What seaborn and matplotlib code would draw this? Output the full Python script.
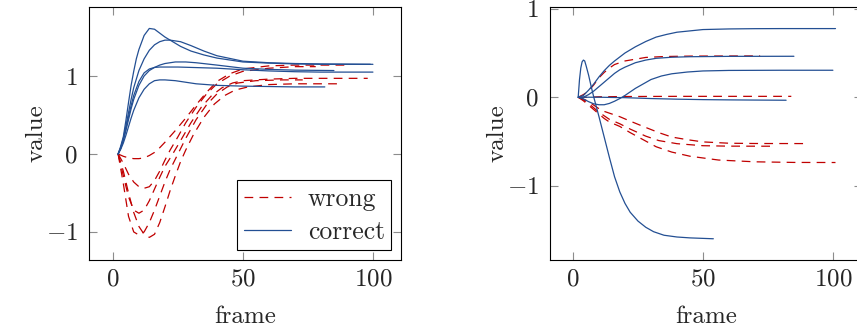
import numpy as np
import pandas as pd
import matplotlib
matplotlib.use('Agg')
import matplotlib.pyplot as plt
import seaborn as sns
from matplotlib.lines import Line2D

# left panel, "correct" runs
lc_a_x = [2, 3, 4, 5, 6, 7, 8, 9, 10, 12, 14, 16, 18, 20, 22, 26, 30, 35, 40, 50, 60, 70, 80, 100]
lc_a_y = [0, 0.1, 0.22, 0.43, 0.66, 0.88, 1.06, 1.22, 1.34, 1.52, 1.61, 1.6, 1.55, 1.5, 1.46, 1.38, 1.32, 1.27, 1.23, 1.18, 1.165, 1.155, 1.15, 1.15]
lc_b_x = [2, 3, 4, 5, 6, 7, 8, 10, 12, 14, 16, 18, 20, 22, 26, 30, 35, 40, 50, 60, 70, 80, 99]
lc_b_y = [0, 0.08, 0.2, 0.36, 0.53, 0.7, 0.85, 1.07, 1.22, 1.33, 1.4, 1.44, 1.46, 1.46, 1.44, 1.39, 1.32, 1.26, 1.19, 1.17, 1.16, 1.155, 1.15]
lc_c_x = [2, 3, 4, 5, 6, 7, 8, 10, 12, 14, 16, 18, 20, 24, 28, 32, 36, 40, 45, 50, 60, 70, 85]
lc_c_y = [0, 0.07, 0.17, 0.3, 0.44, 0.58, 0.7, 0.88, 1.0, 1.07, 1.11, 1.14, 1.16, 1.18, 1.18, 1.17, 1.155, 1.14, 1.12, 1.1, 1.085, 1.075, 1.07]
lc_d_x = [2, 3, 4, 5, 6, 7, 8, 10, 12, 14, 16, 18, 20, 25, 30, 40, 50, 60, 70, 80, 100]
lc_d_y = [0, 0.08, 0.19, 0.33, 0.48, 0.62, 0.75, 0.93, 1.04, 1.09, 1.11, 1.115, 1.115, 1.115, 1.11, 1.1, 1.08, 1.065, 1.055, 1.05, 1.05]
lc_e_x = [2, 3, 4, 5, 6, 7, 8, 10, 12, 14, 16, 18, 20, 24, 28, 32, 40, 50, 60, 70, 81.5]
lc_e_y = [0, 0.06, 0.14, 0.24, 0.35, 0.46, 0.56, 0.72, 0.83, 0.9, 0.94, 0.95, 0.95, 0.94, 0.92, 0.9, 0.88, 0.87, 0.865, 0.86, 0.86]

# left panel, "wrong" runs
lw_a_x = [2, 4, 6, 8, 10, 12, 14, 16, 18, 20, 24, 28, 32, 36, 40, 45, 50, 60, 70, 80, 90]
lw_a_y = [0, -0.03, -0.05, -0.06, -0.06, -0.05, -0.02, 0.02, 0.08, 0.15, 0.3, 0.46, 0.63, 0.79, 0.93, 1.03, 1.09, 1.13, 1.14, 1.14, 1.14]
lw_b_x = [2, 4, 6, 8, 10, 12, 14, 16, 18, 20, 22, 25, 28, 32, 36, 40, 45, 50, 60, 70, 78]
lw_b_y = [0, -0.12, -0.26, -0.36, -0.42, -0.44, -0.42, -0.34, -0.22, -0.08, 0.05, 0.22, 0.4, 0.6, 0.77, 0.9, 1.0, 1.06, 1.1, 1.12, 1.12]
lw_c_x = [2, 4, 6, 8, 10, 12, 14, 16, 18, 20, 23, 26, 30, 34, 38, 42, 46, 50, 60, 70, 80, 98]
lw_c_y = [0, -0.28, -0.55, -0.72, -0.76, -0.72, -0.6, -0.45, -0.3, -0.16, 0.0, 0.17, 0.4, 0.6, 0.75, 0.85, 0.91, 0.94, 0.96, 0.97, 0.97, 0.97]
lw_d_x = [2, 4, 6, 8, 10, 12, 14, 16, 18, 20, 22, 25, 28, 32, 36, 40, 44, 48, 55, 65, 73]
lw_d_y = [0, -0.38, -0.8, -1.0, -1.04, -1.0, -0.88, -0.72, -0.54, -0.36, -0.2, 0.0, 0.2, 0.44, 0.63, 0.77, 0.86, 0.91, 0.94, 0.95, 0.95]
lw_e_x = [2, 4, 6, 8, 10, 12, 14, 16, 18, 20, 22, 24, 26, 28, 31, 35, 39, 43, 47, 52, 60, 70, 87]
lw_e_y = [0, -0.22, -0.5, -0.75, -0.93, -1.03, -1.07, -1.03, -0.88, -0.68, -0.47, -0.28, -0.1, 0.05, 0.25, 0.47, 0.64, 0.75, 0.82, 0.86, 0.89, 0.9, 0.9]

# right panel, "correct" runs
rc_a_x = [2, 4, 6, 8, 10, 12, 14, 16, 18, 20, 24, 28, 32, 36, 40, 45, 50, 60, 70, 80, 101]
rc_a_y = [0, 0.02, 0.08, 0.15, 0.23, 0.3, 0.36, 0.41, 0.455, 0.5, 0.57, 0.63, 0.68, 0.71, 0.735, 0.75, 0.765, 0.772, 0.775, 0.776, 0.776]
rc_b_x = [2, 4, 6, 8, 10, 12, 14, 16, 18, 20, 24, 28, 32, 38, 45, 60, 85]
rc_b_y = [0, 0.0, 0.03, 0.07, 0.12, 0.17, 0.22, 0.27, 0.31, 0.34, 0.39, 0.42, 0.44, 0.452, 0.458, 0.462, 0.463]
rc_c_x = [2, 4, 6, 8, 10, 12, 14, 16, 18, 20, 22, 24, 27, 30, 34, 38, 44, 50, 60, 80, 100]
rc_c_y = [0, -0.02, -0.05, -0.075, -0.085, -0.085, -0.07, -0.045, -0.015, 0.02, 0.06, 0.1, 0.15, 0.2, 0.24, 0.265, 0.285, 0.297, 0.303, 0.305, 0.305]
rc_d_x = [2, 10, 20, 30, 40, 50, 60, 70, 82]
rc_d_y = [0, 0.0, -0.005, -0.015, -0.022, -0.027, -0.03, -0.032, -0.034]
rc_e_x = [2, 2.5, 3, 3.5, 4, 4.5, 5, 6, 7, 8, 10, 12, 14, 16, 18, 20, 22, 25, 28, 31, 35, 40, 45, 54]
rc_e_y = [0, 0.2, 0.33, 0.4, 0.42, 0.41, 0.36, 0.25, 0.12, 0.0, -0.22, -0.45, -0.68, -0.9, -1.07, -1.2, -1.3, -1.4, -1.47, -1.52, -1.56, -1.58, -1.59, -1.6]

# right panel, "wrong" runs
rw_a_x = [2, 4, 6, 8, 10, 12, 14, 16, 18, 20, 24, 28, 35, 45, 72]
rw_a_y = [0, 0.03, 0.07, 0.14, 0.22, 0.28, 0.33, 0.37, 0.39, 0.41, 0.43, 0.45, 0.46, 0.465, 0.467]
rw_b_x = [2, 6, 10, 20, 40, 84]
rw_b_y = [0, 0.0, 0.005, 0.008, 0.01, 0.01]
rw_c_x = [2, 4, 6, 8, 10, 12, 14, 18, 22, 27, 33, 38, 44, 50, 60, 70, 90]
rw_c_y = [0, -0.02, -0.05, -0.09, -0.13, -0.16, -0.18, -0.22, -0.27, -0.33, -0.4, -0.45, -0.48, -0.505, -0.52, -0.523, -0.524]
rw_d_x = [2, 4, 6, 8, 10, 12, 14, 18, 22, 28, 33, 40, 50, 60, 78]
rw_d_y = [0, -0.03, -0.07, -0.12, -0.17, -0.21, -0.25, -0.3, -0.36, -0.44, -0.49, -0.525, -0.548, -0.553, -0.554]
rw_e_x = [2, 4, 6, 8, 10, 12, 14, 18, 22, 27, 32, 38, 45, 56, 70, 85, 101]
rw_e_y = [0, -0.04, -0.09, -0.14, -0.19, -0.24, -0.28, -0.33, -0.4, -0.48, -0.56, -0.62, -0.667, -0.71, -0.73, -0.737, -0.738]

left_wrong = [(lw_a_x, lw_a_y), (lw_b_x, lw_b_y), (lw_c_x, lw_c_y), (lw_d_x, lw_d_y), (lw_e_x, lw_e_y)]
left_correct = [(lc_a_x, lc_a_y), (lc_b_x, lc_b_y), (lc_c_x, lc_c_y), (lc_d_x, lc_d_y), (lc_e_x, lc_e_y)]
right_wrong = [(rw_a_x, rw_a_y), (rw_b_x, rw_b_y), (rw_c_x, rw_c_y), (rw_d_x, rw_d_y), (rw_e_x, rw_e_y)]
right_correct = [(rc_a_x, rc_a_y), (rc_b_x, rc_b_y), (rc_c_x, rc_c_y), (rc_d_x, rc_d_y), (rc_e_x, rc_e_y)]

red = '#c00000'
blue = '#234f93'
dash = (0, (7, 5))

sns.set_style('ticks')
plt.rcParams['font.family'] = 'serif'
plt.rcParams['font.serif'] = ['cmr10']
plt.rcParams['mathtext.fontset'] = 'cm'
plt.rcParams['axes.formatter.use_mathtext'] = True
plt.rcParams['font.size'] = 18


def make_df(runs, kind):
    frames = []
    for i, (x, y) in enumerate(runs):
        frames.append(pd.DataFrame({'frame': x, 'value': y, 'run': i, 'kind': kind}))
    return pd.concat(frames, ignore_index=True)


def draw_panel(ax, wrong, correct, xlim, ylim):
    dw = make_df(wrong, 'wrong')
    dc = make_df(correct, 'correct')
    sns.lineplot(data=dw, x='frame', y='value', units='run', estimator=None,
                 color=red, linewidth=0.9, linestyle=dash, ax=ax, legend=False)
    sns.lineplot(data=dc, x='frame', y='value', units='run', estimator=None,
                 color=blue, linewidth=0.9, ax=ax, legend=False)
    ax.set_xlim(*xlim)
    ax.set_ylim(*ylim)
    ax.set_xticks([0, 50, 100])
    ax.set_yticks([-1, 0, 1])
    ax.tick_params(direction='in', top=True, right=True, length=6, width=0.8,
                   color='0.55', labelsize=18)
    ax.tick_params(axis='x', pad=6)
    ax.tick_params(axis='y', pad=8)
    for s in ax.spines.values():
        s.set_color('black')
        s.set_linewidth(0.8)
    ax.set_xlabel('frame', fontsize=18, labelpad=11)
    ax.set_ylabel('value', fontsize=18, labelpad=-1.5)


fig = plt.figure(figsize=(8.57, 3.28), dpi=100)
ax1 = fig.add_axes([89 / 857, 1 - 260 / 328, 312 / 857, 253 / 328])
ax2 = fig.add_axes([550 / 857, 1 - 260 / 328, 312 / 857, 253 / 328])

draw_panel(ax1, left_wrong, left_correct, (-9.2, 110.8), (-1.36, 1.885))
draw_panel(ax2, right_wrong, right_correct, (-8.85, 111.2), (-1.84, 1.02))

handles = [Line2D([], [], color=red, linewidth=0.9, linestyle=dash),
           Line2D([], [], color=blue, linewidth=0.9)]
leg = ax1.legend(handles, ['wrong', 'correct'], loc='lower right', fontsize=18.5,
                 frameon=True, fancybox=False, framealpha=1, edgecolor='black',
                 borderaxespad=0.37, handlelength=1.85, handletextpad=0.65,
                 labelspacing=0.38, borderpad=0.25)
leg.get_frame().set_linewidth(0.8)

fig.savefig('out.png', dpi=100)
